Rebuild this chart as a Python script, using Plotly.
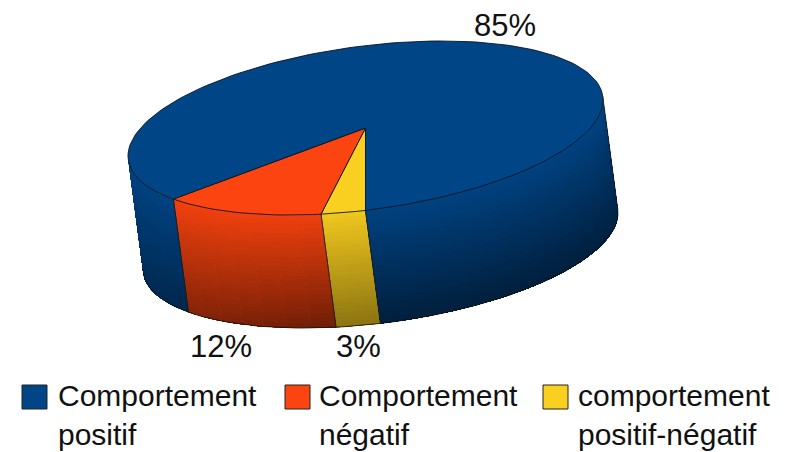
import math
import plotly.graph_objects as go

# ---- data ----
categories = ["Comportement<br>positif", "Comportement<br>négatif", "comportement<br>positif-négatif"]
shares = [85, 12, 3]
value_labels = ["85%", "12%", "3%"]
colors = ["#004586", "#fb440f", "#f9cf20"]
fade = [0.88, 0.95, 0.72]

# ---- projection of the pie's circle to the page ----
CX, CY = 365.5, 128.0
AX, AY, BY = 237.5, -28.0, 82.4
DEPTH_X, DEPTH_Y = 15.0, 113.0
START = 90.0            # angle where the last slice starts
FRONT = (-2.6, 177.4)   # visible arc of the side wall
BANDS = 24
STEP = 6.0


def rim(deg, t=0.0):
    a = math.radians(deg)
    return (CX + AX * math.cos(a) + DEPTH_X * t,
            CY + AY * math.cos(a) + BY * math.sin(a) + DEPTH_Y * t)


def arc(a0, a1, t=0.0):
    n = max(2, int(abs(a1 - a0) / 2) + 1)
    return [rim(a0 + (a1 - a0) * i / (n - 1), t) for i in range(n)]


def shade(hex_color, m):
    r, g, b = (int(hex_color[i:i + 2], 16) for i in (1, 3, 5))
    return "rgb(%d,%d,%d)" % (r * m, g * m, b * m)


# slice angular ranges, drawn clockwise from START in reverse legend order
spans = []
a = START
for i in (2, 1, 0):
    sweep = shares[i] / sum(shares) * 360.0
    spans.append((i, a, a + sweep))
    a += sweep

fig = go.Figure()


def poly(pts, fill, line=None, width=0.0):
    xs = [p[0] for p in pts] + [pts[0][0]]
    ys = [p[1] for p in pts] + [pts[0][1]]
    fig.add_trace(go.Scatter(x=xs, y=ys, mode="lines", fill="toself", fillcolor=fill,
                             line=dict(color=line or fill, width=width),
                             hoverinfo="skip", showlegend=False))


def side_strength(deg):
    # side wall fades less towards the left end of the wall
    d = (deg % 360)
    if d > 180:
        d -= 360
    return 0.62 - 0.22 * max(0.0, (d - 90) / 90) - 0.06 * max(0.0, (30 - d) / 30)


# side walls: each cell is painted through to the end of the wall and over-painted
# by the next one, which leaves no seams between neighbouring cells
for i, a0, a1 in spans:
    for lo, hi in ((FRONT[0], FRONT[1]), (FRONT[0] + 360, FRONT[1] + 360)):
        s0, s1 = max(a0, lo), min(a1, hi)
        if s1 <= s0:
            continue
        n = max(1, int((s1 - s0) / STEP))
        for j in range(n):
            c0 = s0 + (s1 - s0) * j / n
            c1 = s0 + (s1 - s0) * (j + 1) / n
            k = side_strength((c0 + c1) / 2) * fade[i]
            for b in range(BANDS):
                t0 = b / BANDS
                t1 = (b + 1) / BANDS
                m = 1 - k * (0.08 + 0.92 * (t0 + t1) / 2)
                poly(arc(c0, s1, t0) + arc(s1, c0, 1.0), shade(colors[i], m))
        # outline of the wall
        xy = arc(s0, s1, 1.0)
        fig.add_trace(go.Scatter(x=[p[0] for p in xy], y=[p[1] for p in xy], mode="lines",
                                 line=dict(color="#101010", width=0.8),
                                 hoverinfo="skip", showlegend=False))
        for e in (s0, s1):
            xy = [rim(e, 0), rim(e, 1)]
            edge = e not in FRONT and e - 360 not in FRONT
            if edge:
                fig.add_trace(go.Scatter(x=[p[0] for p in xy], y=[p[1] for p in xy], mode="lines",
                                         line=dict(color="#1a1a1a", width=0.8),
                                         hoverinfo="skip", showlegend=False))

# top face
for i, a0, a1 in spans:
    poly([(CX, CY)] + arc(a0, a1), colors[i], line="#0a1420", width=0.9)

# value labels
label_pos = [(505, 25), (221, 346), (358, 346)]
for txt, (x, y) in zip(value_labels, label_pos):
    fig.add_annotation(x=x, y=y, text=txt, showarrow=False, xanchor="center", yanchor="middle",
                       font=dict(family="Liberation Sans", size=31, color="#111111"))

# legend
swatch_x = [22, 285, 543]
text_x = [56, 317, 576]
for name, col, sx, tx in zip(categories, colors, swatch_x, text_x):
    fig.add_shape(type="rect", x0=sx, x1=sx + 25, y0=385, y1=409, fillcolor=col,
                  line=dict(color="#222222", width=1))
    fig.add_annotation(x=tx, y=415, text=name, showarrow=False, xanchor="left", yanchor="middle",
                       align="left", font=dict(family="Liberation Sans", size=30, color="#111111"))

fig.update_layout(width=786, height=452, margin=dict(l=0, r=0, t=0, b=0),
                  paper_bgcolor="white", plot_bgcolor="white", showlegend=False,
                  xaxis=dict(range=[0, 786], visible=False, fixedrange=True),
                  yaxis=dict(range=[452, 0], visible=False, fixedrange=True))
fig.write_html("out.html", config=dict(displayModeBar=False),
               post_script="document.body.style.margin='0';document.body.style.overflow='hidden';")
